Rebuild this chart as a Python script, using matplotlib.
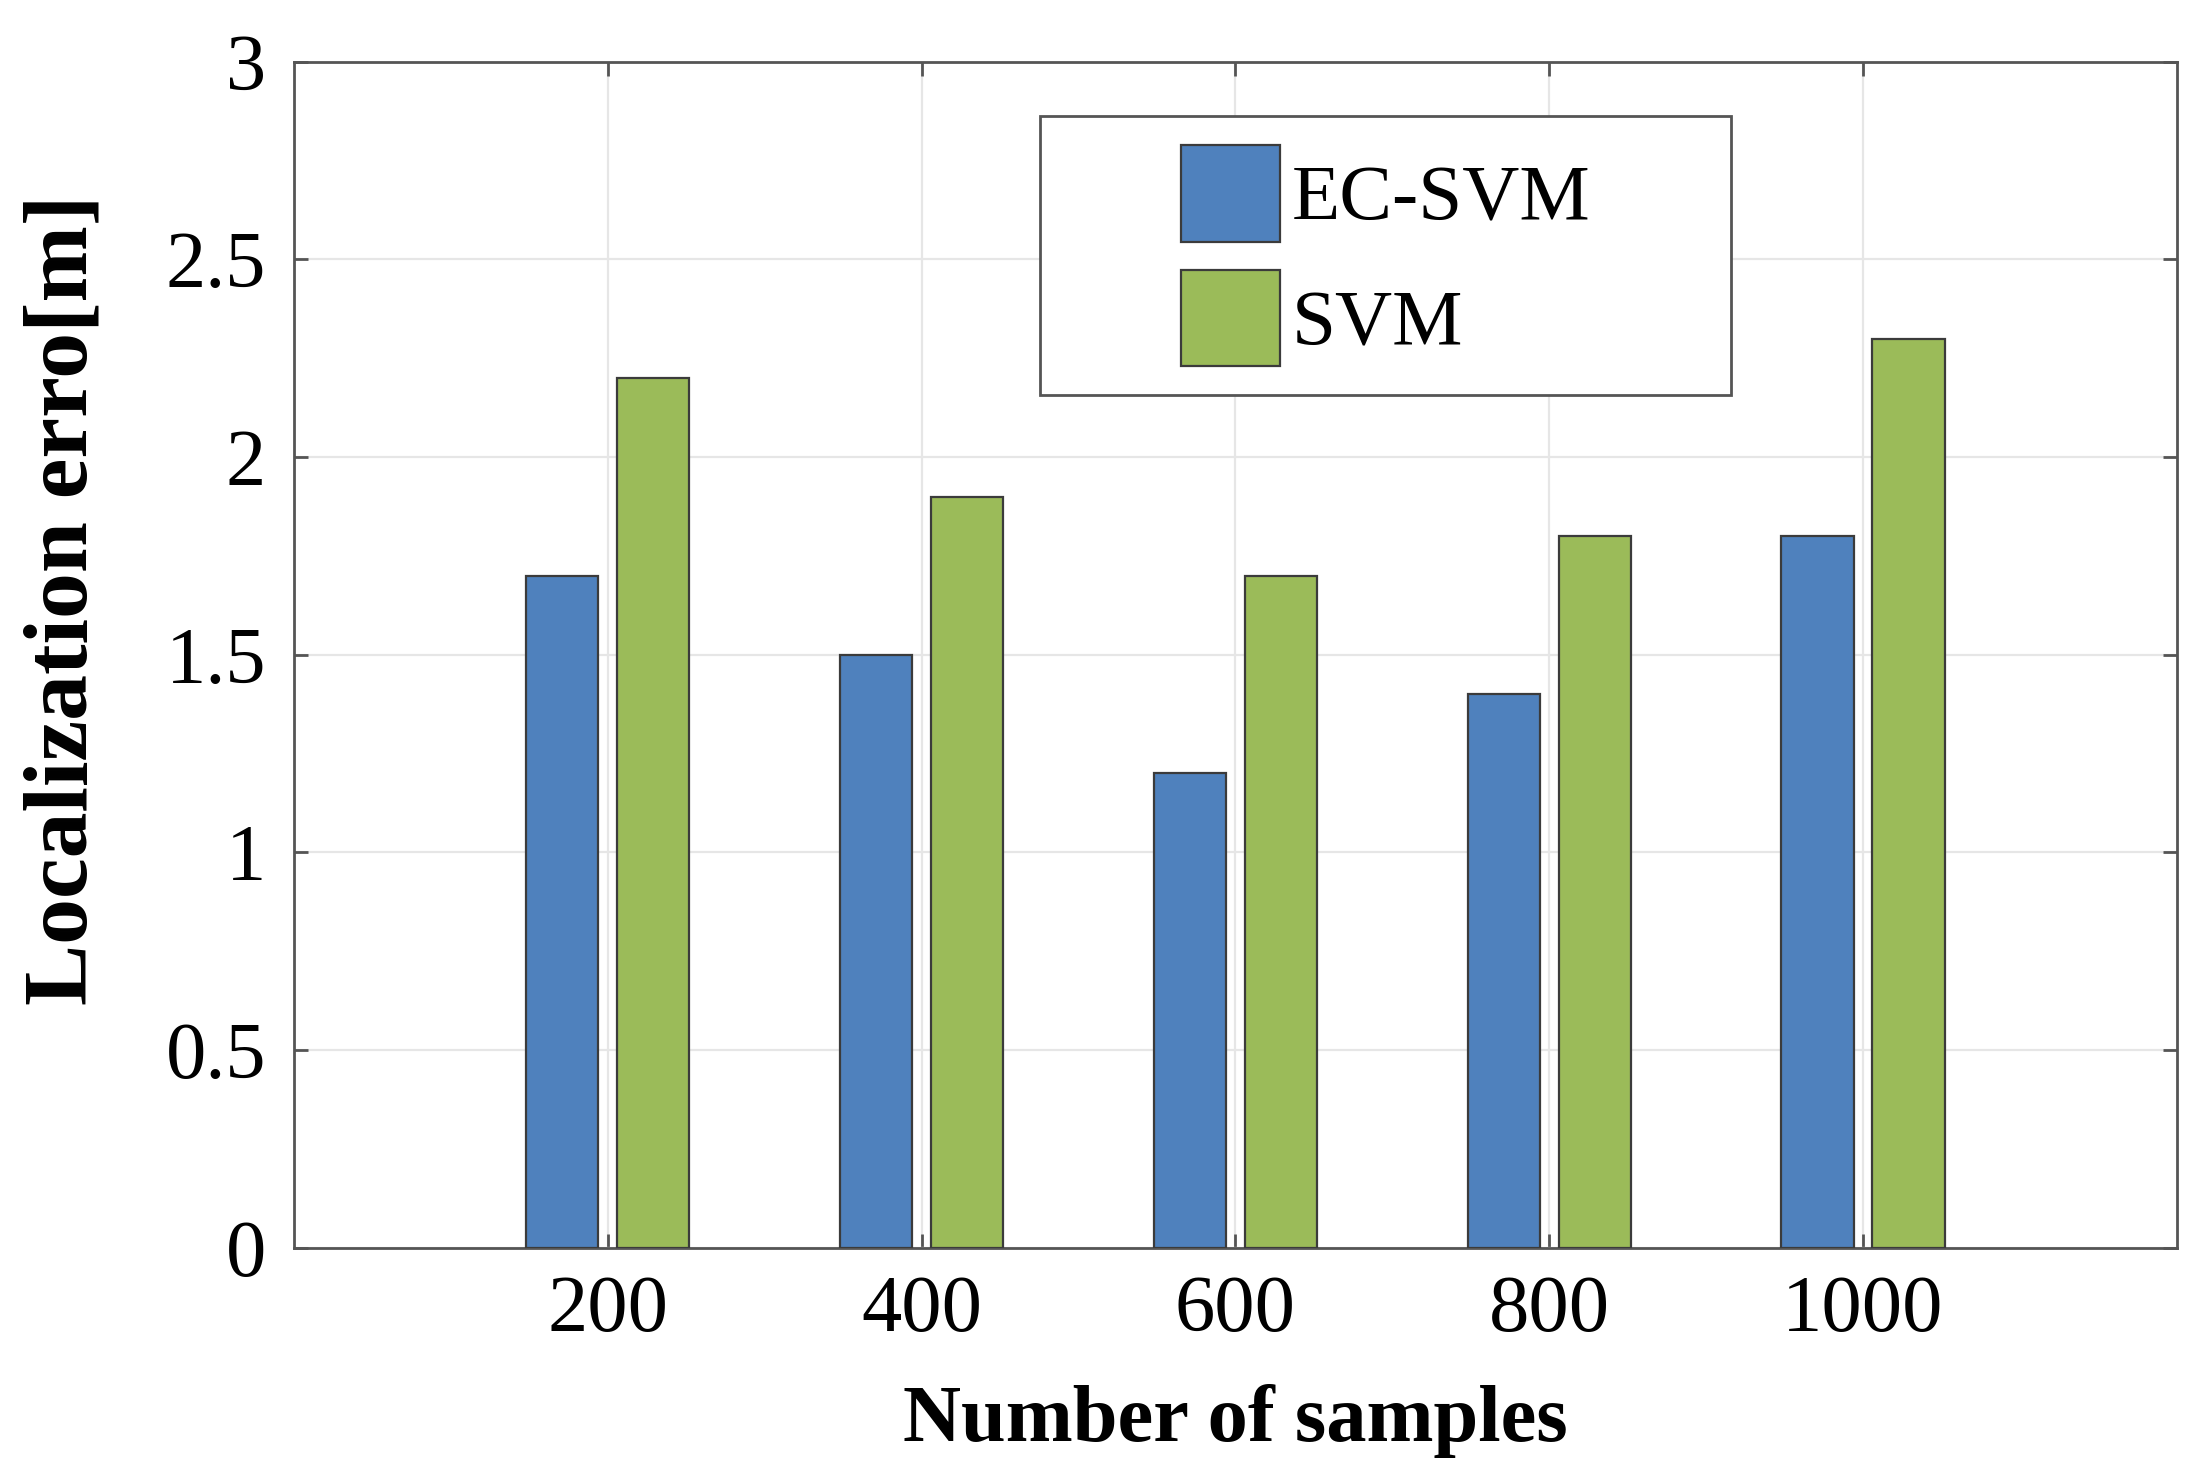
import numpy as np
import matplotlib
matplotlib.use("Agg")
import matplotlib.pyplot as plt
from matplotlib.patches import Rectangle

plt.rcParams['font.family'] = ['Liberation Serif', 'DejaVu Serif']

# data
samples = [200, 400, 600, 800, 1000]
ec_svm = [1.7, 1.5, 1.2, 1.4, 1.8]
svm = [2.2, 1.9, 1.7, 1.8, 2.3]
y_ticks = [0, 0.5, 1, 1.5, 2, 2.5, 3]
y_tick_labels = ['0', '0.5', '1', '1.5', '2', '2.5', '3']

fig = plt.figure(figsize=(11.05, 7.365), dpi=200)
ax = fig.add_axes([0.133, 0.153, 0.852, 0.805])

x = np.array(samples)
width = 46
offset = 29
ax.bar(x - offset, ec_svm, width, color='#4F81BD', edgecolor='#3b3b3b',
       linewidth=0.8, label='EC-SVM', zorder=3)
ax.bar(x + offset, svm, width, color='#9BBB59', edgecolor='#3b3b3b',
       linewidth=0.8, label='SVM', zorder=3)

ax.set_xlim(0, 1200)
ax.set_ylim(0, 3)
ax.set_xticks(samples)
ax.set_yticks(y_ticks)
ax.set_yticklabels(y_tick_labels)

ax.grid(True, color='#e6e6e6', linewidth=0.8, zorder=0)
ax.set_axisbelow(True)
for s in ax.spines.values():
    s.set_color('#555555')
    s.set_linewidth(1.0)
ax.tick_params(direction='in', length=5, width=1.0, color='#555555',
               top=True, right=True, labelsize=29, pad=10)

ax.set_xlabel('Number of samples', fontsize=29, fontweight='bold')
ax.set_ylabel('Localization erro[m]', fontsize=33, fontweight='bold')
ax.xaxis.set_label_coords(0.5, -0.115)
ax.yaxis.set_label_coords(-0.10, 0.546)

# legend frame drawn separately (MATLAB style wide box)
ax.add_patch(Rectangle((0.396, 0.719), 0.367, 0.235, transform=ax.transAxes,
                       facecolor='white', edgecolor='#555555', linewidth=1.0,
                       zorder=4))
leg = ax.legend(loc='center', bbox_to_anchor=(0.58, 0.8365), frameon=False,
                fontsize=28.5, handlelength=1.25, handleheight=1.5,
                handletextpad=0.15, labelspacing=0.35, borderpad=0.0)
leg.set_zorder(5)

plt.savefig('out.png', dpi=200)
